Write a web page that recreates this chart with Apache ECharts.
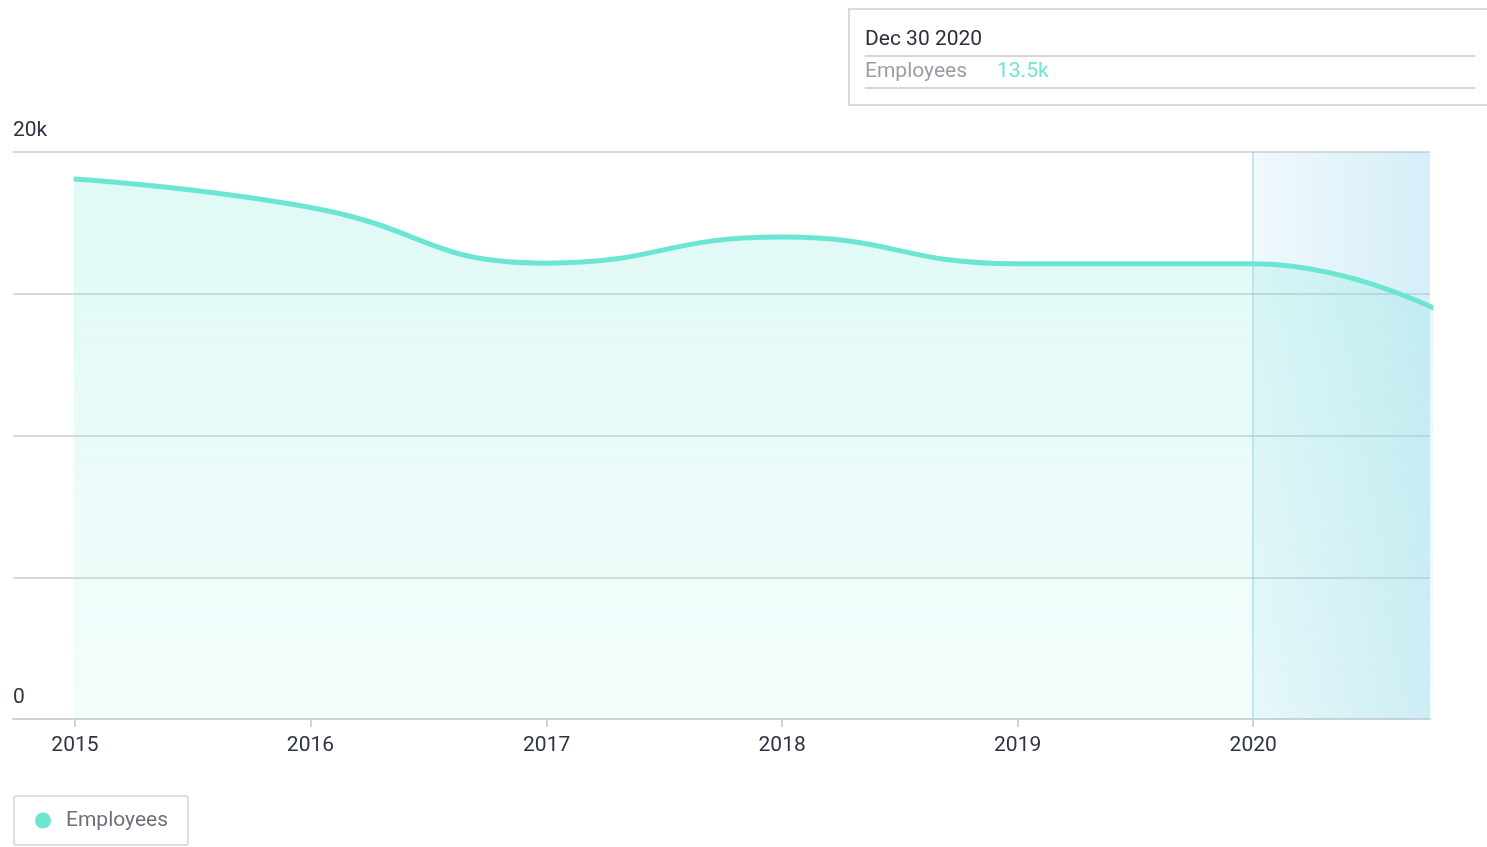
<!DOCTYPE html>
<html>
<head>
<meta charset="utf-8">
<title>Employees</title>
<script src="https://cdn.jsdelivr.net/npm/echarts@6/dist/echarts.min.js"></script>
<style>
  html, body { margin: 0; padding: 0; background: #ffffff; }
  #chart { width: 1487px; height: 847px; }
</style>
</head>
<body>
<div id="chart"></div>
<script>
// Headcount reported at each fiscal year end
const reportDates = ['2014-12-30', '2015-12-30', '2016-12-30', '2017-12-30', '2018-12-30', '2019-12-30', '2020-12-30'];
const employees = [19050, 18050, 16080, 17000, 16060, 16060, 13500];

// Year ticks on the time axis
const yearTicks = ['2015', '2016', '2017', '2018', '2019', '2020'];
// Value axis ticks and the two that carry a label
const valueTicks = [0, 5000, 10000, 15000, 20000];
const valueLabels = [0, 20000];

// Visible window and the shaded latest period
const windowStart = '2014-09-27';
const windowEnd = '2020-10-01';
const shadeStart = '2020-01-01';

const TEAL = '#6ce5d3';
const FONT = 'Roboto, "Noto Sans", sans-serif';
const FS = 21;

const ts = s => Date.parse(s + 'T00:00:00Z');
const yearTs = yearTicks.map(y => ts(y + '-01-01'));
const seriesData = reportDates.map((d, i) => [ts(d), employees[i]]);

const fmtK = v => (v === 0 ? '0' : (v / 1000).toFixed(v % 1000 === 0 ? 0 : 1) + 'k');
const MONTHS = ['Jan', 'Feb', 'Mar', 'Apr', 'May', 'Jun', 'Jul', 'Aug', 'Sep', 'Oct', 'Nov', 'Dec'];
const fmtDate = t => { const d = new Date(t); return MONTHS[d.getUTCMonth()] + ' ' + d.getUTCDate() + ' ' + d.getUTCFullYear(); };

const last = seriesData[seriesData.length - 1];

const chart = echarts.init(document.getElementById('chart'), null, { renderer: 'canvas' });

chart.setOption({
  animation: false,
  textStyle: { fontFamily: FONT },
  grid: { left: 13, right: 57, top: 152, bottom: 128, containLabel: false, outerBoundsMode: 'none' },
  legend: {
    left: 14,
    top: 796,
    orient: 'horizontal',
    icon: 'circle',
    itemWidth: 36,
    itemHeight: 16,
    padding: [14, 20, 14, 21],
    borderColor: '#d4d4d4',
    borderWidth: 1.5,
    borderRadius: 2,
    textStyle: { fontSize: FS, color: '#6b7079', fontFamily: FONT },
    data: [{ name: 'Employees', itemStyle: { color: TEAL } }]
  },
  xAxis: {
    type: 'value',
    min: ts(windowStart),
    max: ts(windowEnd),
    axisLine: { show: true, lineStyle: { color: '#d2d2d2', width: 2 } },
    axisTick: { show: true, customValues: yearTs, length: 8, lineStyle: { color: '#d2d2d2', width: 2 } },
    axisLabel: {
      customValues: yearTs,
      formatter: v => String(new Date(v).getUTCFullYear()),
      fontSize: FS,
      color: '#2d3340',
      margin: 16,
      fontFamily: FONT
    },
    splitLine: { show: false }
  },
  yAxis: {
    type: 'value',
    min: valueTicks[0],
    max: valueTicks[valueTicks.length - 1],
    interval: 5000,
    axisLine: { show: false },
    axisTick: { show: false },
    axisLabel: {
      customValues: valueLabels,
      inside: true,
      margin: 0,
      verticalAlign: 'bottom',
      padding: [0, 0, 11, 0],
      fontSize: FS,
      color: '#2d3340',
      fontFamily: FONT,
      formatter: fmtK
    },
    splitLine: { show: true, lineStyle: { color: '#d9d9d9', width: 2 } }
  },
  series: [{
    name: 'Employees',
    type: 'line',
    data: seriesData,
    smooth: true,
    clip: true,
    showSymbol: false,
    symbol: 'none',
    lineStyle: { color: TEAL, width: 5 },
    itemStyle: { color: TEAL },
    areaStyle: {
      color: new echarts.graphic.LinearGradient(0, 0, 0, 1, [
        { offset: 0, color: 'rgba(108,229,211,0.31)' },
        { offset: 1, color: 'rgba(108,229,211,0.11)' }
      ])
    },
    markArea: {
      silent: true,
      itemStyle: {
        color: new echarts.graphic.LinearGradient(0, 0, 1, 0, [
          { offset: 0, color: 'rgba(150,212,235,0.14)' },
          { offset: 1, color: 'rgba(150,212,235,0.40)' }
        ])
      },
      data: [[{ xAxis: ts(shadeStart) }, { xAxis: ts(windowEnd) }]]
    },
    markLine: {
      silent: true,
      symbol: 'none',
      label: { show: false },
      lineStyle: { color: 'rgba(150,215,230,0.55)', width: 2, type: 'solid' },
      data: [{ xAxis: ts(shadeStart) }]
    }
  }],
  graphic: [{
    type: 'group',
    left: 848,
    top: 8,
    children: [
      { type: 'rect', shape: { x: 0, y: 0, width: 660, height: 96 },
        style: { fill: '#ffffff', stroke: '#dadada', lineWidth: 2 } },
      { type: 'text', x: 16, y: 31,
        style: { text: fmtDate(last[0]), fontSize: FS, fill: '#2a2f3a', fontFamily: FONT, verticalAlign: 'middle' } },
      { type: 'line', shape: { x1: 16, y1: 47, x2: 626, y2: 47 },
        style: { stroke: '#d6d6d6', lineWidth: 2 } },
      { type: 'text', x: 16, y: 63,
        style: { text: 'Employees', fontSize: FS, fill: '#9a9ea6', fontFamily: FONT, verticalAlign: 'middle' } },
      { type: 'text', x: 148, y: 63,
        style: { text: fmtK(last[1]), fontSize: FS, fill: TEAL, fontFamily: FONT, verticalAlign: 'middle' } },
      { type: 'line', shape: { x1: 16, y1: 79, x2: 626, y2: 79 },
        style: { stroke: '#d6d6d6', lineWidth: 2 } }
    ]
  }]
});
</script>
</body>
</html>
